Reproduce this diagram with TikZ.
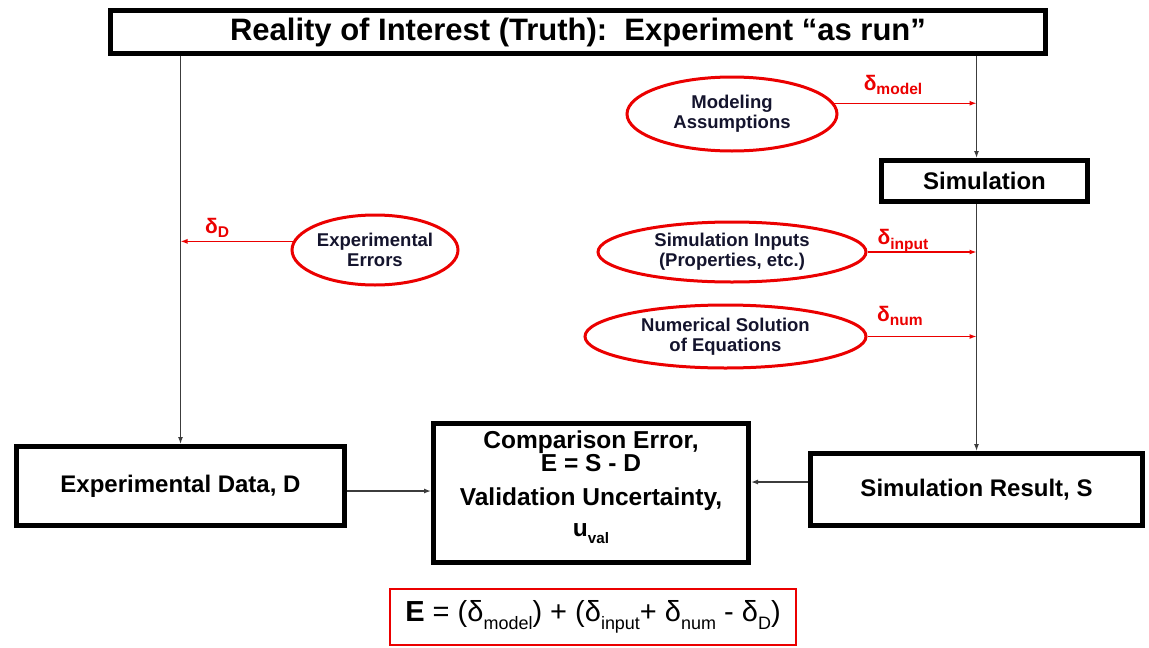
\documentclass[tikz,border=0pt]{standalone}
\usepackage{fontspec}
\usepackage{graphicx}
\setmainfont{Liberation Sans}
\usetikzlibrary{shapes.geometric,arrows.meta}
\definecolor{redline}{RGB}{235,0,0}
\definecolor{conngray}{RGB}{60,60,60}
\definecolor{navytext}{RGB}{20,20,45}
\newcommand\lsub[1]{\raisebox{-0.28em}{\scalebox{0.62}{#1}}}
\newcommand\dsub[1]{\raisebox{-0.22em}{\scalebox{0.74}{#1}}}
\begin{document}
\begin{tikzpicture}[x=1pt,y=-1pt,
  thickbox/.style={draw=black, line width=5pt, inner sep=0pt, font=\bfseries\fontsize{24}{26}\selectfont},
  redell/.style={draw=redline, ellipse, line width=3pt, inner sep=0pt, align=center, text=navytext, font=\bfseries\fontsize{18.5}{20}\selectfont},
  conn/.style={draw=conngray, line width=1.3pt, -{Latex[length=7pt,width=5pt]}},
  redarr/.style={draw=redline, line width=1.2pt, -{Latex[length=7pt,width=5pt]}},
  dlabel/.style={text=redline, font=\bfseries\fontsize{21}{22}\selectfont, inner sep=0pt}
]
\useasboundingbox (0,0) rectangle (1149,648);

% boxes
\node[thickbox, minimum width=935pt, minimum height=43pt, font=\bfseries\fontsize{31}{33}\selectfont] (top) at (578,32) {Reality of Interest (Truth):\ \ Experiment “as run”};
\node[thickbox, minimum width=206pt, minimum height=41pt] (sim) at (984.5,181) {Simulation};
\node[thickbox, minimum width=328pt, minimum height=79pt] (expdata) at (180.5,486) {Experimental Data, D};
\node[thickbox, minimum width=315pt, minimum height=139pt] (comp) at (591,493) {};
\node[font=\bfseries\fontsize{24.5}{23}\selectfont, align=center, inner sep=0pt] (comptext) at (591,487)
  {Comparison Error,\\ E = S - D\\[11pt] Validation Uncertainty,\\[8pt] u\lsub{val}};
\node[thickbox, minimum width=332pt, minimum height=72pt] (simres) at (976.5,489.5) {Simulation Result, S};
\node[draw=redline, line width=2pt, minimum width=406pt, minimum height=56pt, inner sep=0pt, font=\fontsize{29}{31}\selectfont] (eq) at (593,617)
  {\raisebox{0.3em}{\textbf{E} = (δ\lsub{model}) + (δ\lsub{input}+ δ\lsub{num} - δ\lsub{D})}};

% ellipses
\node[redell, minimum width=210pt, minimum height=74pt] (model) at (732,114) {Modeling\\Assumptions};
\node[redell, minimum width=166pt, minimum height=70pt] (experr) at (375,250) {Experimental\\Errors};
\node[redell, minimum width=268pt, minimum height=60pt] (inputs) at (732,252) {Simulation Inputs\\(Properties, etc.)};
\node[redell, minimum width=281pt, minimum height=63pt] (numsol) at (725.5,336.5) {Numerical Solution\\of Equations};

% main connectors
\draw[conn] (expdata.north |- top.south) -- (expdata.north);
\draw[conn] (simres.north |- top.south) -- (sim.north -| simres.north);
\draw[conn] (sim.south -| simres.north) -- (simres.north);
\draw[conn] ([yshift=-5pt]expdata.east) -- ([yshift=-5pt]expdata.east -| comp.west);
\draw[conn] ([yshift=7.5pt]simres.west) -- ([yshift=7.5pt]simres.west -| comp.east);

% red connectors
\draw[redarr] (model.6) -- (model.6 -| simres.north);
\draw[redarr] (experr.174) -- (experr.174 -| expdata.north);
\draw[redarr] (inputs.east) -- (inputs.east -| simres.north);
\draw[redarr] (numsol.east) -- (numsol.east -| simres.north);

% delta labels
\node[dlabel] (dmodel) at (893,85) {δ\dsub{model}};
\node[dlabel] (dD) at (217,228) {δ\dsub{D}};
\node[dlabel] (dinput) at (903,241) {δ\dsub{input}};
\node[dlabel] (dnum) at (900,316) {δ\dsub{num}};
\end{tikzpicture}
\end{document}
